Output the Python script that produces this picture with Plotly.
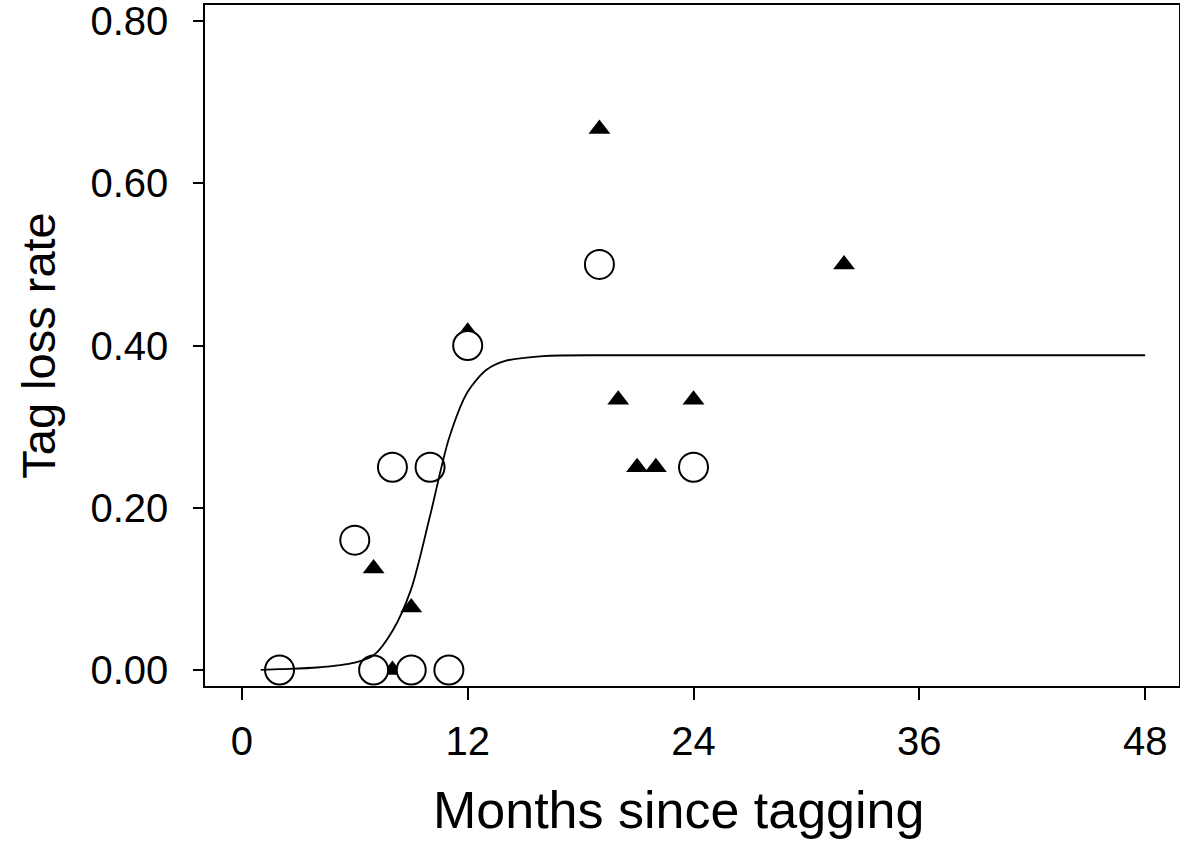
import plotly.graph_objects as go

# Open circles
circ_x = [2, 6, 7, 8, 9, 10, 11, 12, 19, 24]
circ_y = [0.00, 0.16, 0.00, 0.25, 0.00, 0.25, 0.00, 0.40, 0.50, 0.25]

# Filled triangles
tri_x = [7, 8, 9, 12, 19, 20, 21, 22, 24, 32]
tri_y = [0.125, 0.00, 0.077, 0.417, 0.667, 0.333, 0.25, 0.25, 0.333, 0.50]

# Fitted curve
fit_x = [1, 2, 4, 6, 7, 8, 9, 10, 11, 12, 13, 14, 16, 20, 48]
fit_y = [0.000, 0.001, 0.003, 0.009, 0.018, 0.048, 0.100, 0.190, 0.285,
         0.343, 0.370, 0.381, 0.387, 0.388, 0.388]

x_ticks = [0, 12, 24, 36, 48]
y_ticks = [0.0, 0.2, 0.4, 0.6, 0.8]
y_tick_text = ["0.00", "0.20", "0.40", "0.60", "0.80"]

fig = go.Figure()
fig.add_trace(go.Scatter(
    x=tri_x, y=tri_y, mode="markers",
    marker=dict(symbol="triangle-up", size=19, color="black",
                line=dict(width=0)),
    showlegend=False, cliponaxis=False))
fig.add_trace(go.Scatter(
    x=circ_x, y=circ_y, mode="markers",
    marker=dict(symbol="circle", size=29, color="white",
                line=dict(width=2, color="black")),
    showlegend=False, cliponaxis=False))
fig.add_trace(go.Scatter(
    x=fit_x, y=fit_y, mode="lines",
    line=dict(color="black", width=1.8, shape="spline", smoothing=0.8),
    showlegend=False))

fig.update_layout(
    width=1180, height=857,
    margin=dict(l=205, r=1, t=5, b=171),
    paper_bgcolor="white", plot_bgcolor="white",
    font=dict(family="Liberation Sans, Arial, sans-serif", color="black"),
    annotations=[dict(
        text="Months since tagging", xref="paper", yref="paper",
        x=0.486, y=-0.137, xanchor="center", yanchor="top",
        showarrow=False, font=dict(size=52))],
)
fig.update_xaxes(
    range=[-1.96, 49.8], tickvals=x_ticks, ticktext=[str(v) for v in x_ticks],
    ticks="outside", ticklen=12, tickwidth=1.5, tickcolor="black",
    showline=True, linecolor="black", linewidth=1.5, mirror=True,
    showgrid=False, zeroline=False, automargin=False,
    tickfont=dict(size=40), ticklabelstandoff=7, ticklabeloverflow="allow",
)
fig.update_yaxes(
    range=[-0.0198, 0.8198], tickvals=y_ticks, ticktext=y_tick_text,
    ticks="outside", ticklen=10, tickwidth=1.5, tickcolor="black",
    showline=True, linecolor="black", linewidth=1.5, mirror=True,
    showgrid=False, zeroline=False, automargin=False,
    tickfont=dict(size=40), ticklabelstandoff=17, ticklabeloverflow="allow",
    title=dict(text="Tag loss rate", font=dict(size=47), standoff=20),
)

fig.write_html("out.html",
               config={"displayModeBar": False},
               post_script="document.body.style.margin='0';"
                           "document.body.style.overflow='hidden';")
